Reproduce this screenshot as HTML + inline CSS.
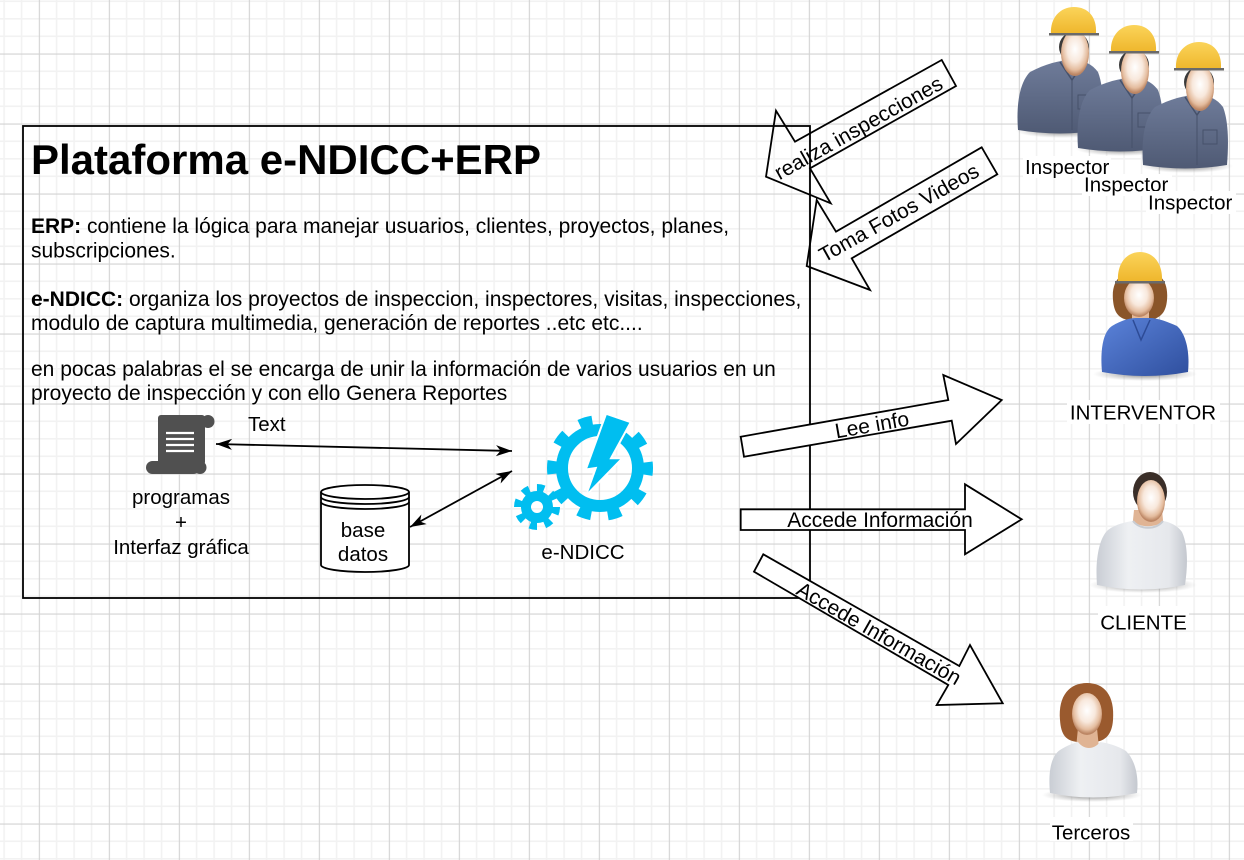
<!DOCTYPE html>
<html><head><meta charset="utf-8">
<style>
html,body{margin:0;padding:0;background:#fff;}
svg{display:block;}
text{font-family:"Liberation Sans",Arial,sans-serif;fill:#000;}
</style></head>
<body>
<svg width="1244" height="860" viewBox="0 0 1244 860" xmlns="http://www.w3.org/2000/svg">
<defs>
  <pattern id="grid" patternUnits="userSpaceOnUse" x="38.8" y="53.5" width="70" height="70">
    <rect x="0" y="0" width="70" height="70" fill="#fff"/>
    <rect x="17" y="0" width="1.6" height="70" fill="#f2f2f2"/>
    <rect x="34.5" y="0" width="1.6" height="70" fill="#f2f2f2"/>
    <rect x="52" y="0" width="1.6" height="70" fill="#f2f2f2"/>
    <rect x="0" y="17" width="70" height="1.6" fill="#f2f2f2"/>
    <rect x="0" y="34.5" width="70" height="1.6" fill="#f2f2f2"/>
    <rect x="0" y="52" width="70" height="1.6" fill="#f2f2f2"/>
    <rect x="0" y="0" width="1.1" height="70" fill="#d2d2d2"/>
    <rect x="0" y="0" width="70" height="1.1" fill="#d2d2d2"/>
  </pattern>
  <marker id="ah" markerUnits="userSpaceOnUse" markerWidth="17" markerHeight="12" refX="16" refY="6" orient="auto-start-reverse">
    <path d="M0,0.5 L16,6 L0,11.5 L4.5,6 Z" fill="#000"/>
  </marker>
  <radialGradient id="face" cx="50%" cy="42%" r="55%">
    <stop offset="0" stop-color="#ffffff"/>
    <stop offset="0.5" stop-color="#f8e8dc"/>
    <stop offset="0.82" stop-color="#e4bc9e"/>
    <stop offset="1" stop-color="#bc8664"/>
  </radialGradient>
  <radialGradient id="shadow" cx="50%" cy="50%" r="50%">
    <stop offset="0" stop-color="#555" stop-opacity="0.8"/>
    <stop offset="1" stop-color="#888" stop-opacity="0"/>
  </radialGradient>
  <linearGradient id="insp" x1="0" y1="0" x2="0" y2="1">
    <stop offset="0" stop-color="#6f7c9a"/>
    <stop offset="1" stop-color="#4f5a74"/>
  </linearGradient>
  <linearGradient id="blue" x1="0" y1="0" x2="1" y2="1">
    <stop offset="0" stop-color="#5b83da"/>
    <stop offset="1" stop-color="#2f4f9e"/>
  </linearGradient>
  <linearGradient id="white" x1="0" y1="0" x2="1" y2="0">
    <stop offset="0" stop-color="#c9cdd4"/>
    <stop offset="0.35" stop-color="#eef0f3"/>
    <stop offset="0.8" stop-color="#e6e8ec"/>
    <stop offset="1" stop-color="#c4c8cf"/>
  </linearGradient>
  <linearGradient id="helmet" x1="0" y1="0" x2="0" y2="1">
    <stop offset="0" stop-color="#fbd45a"/>
    <stop offset="1" stop-color="#eeb52a"/>
  </linearGradient>
  <g id="inspector">
    <ellipse cx="1062" cy="131" rx="46" ry="7" fill="url(#shadow)"/>
    <ellipse cx="1074" cy="47" rx="15" ry="15" fill="#3a3a3a"/>
    <path d="M1018,130 C1016,103 1020,82 1030,72 C1045,64 1060,60 1072,60 C1084,60 1092,64 1098,72 C1103,85 1104,105 1102,130 Q1060,137 1018,130 Z" fill="url(#insp)"/>
    <path d="M1060,62 L1072,80 L1084,62" fill="none" stroke="#46516a" stroke-width="1.5"/>
    <path d="M1072,80 L1072,130" stroke="#46516a" stroke-width="1"/>
    <rect x="1078" y="95" width="14" height="14" fill="none" stroke="#46516a" stroke-width="1"/>
    <ellipse cx="1075" cy="53" rx="14" ry="23" fill="url(#face)"/>
    <path d="M1051,34 C1050,18 1060,7 1074,7 C1088,7 1097,17 1096,33 L1099,35 L1049,35 Z" fill="url(#helmet)"/>
    <rect x="1049" y="33" width="50" height="2.5" fill="#6a6a6a"/>
  </g>
</defs>

<rect x="0" y="0" width="1244" height="860" fill="url(#grid)"/>

<!-- Main platform box -->
<rect x="23" y="126" width="787" height="472" fill="none" stroke="#000" stroke-width="1.8"/>

<text x="31" y="174" font-size="42" font-weight="bold">Plataforma e-NDICC+ERP</text>
<text x="31" y="233" font-size="21"><tspan font-weight="bold">ERP:</tspan> contiene la lógica para manejar usuarios, clientes, proyectos, planes,</text>
<text x="31" y="257.5" font-size="21">subscripciones.</text>
<text x="31" y="306" font-size="21"><tspan font-weight="bold">e-NDICC:</tspan> organiza los proyectos de inspeccion, inspectores, visitas, inspecciones,</text>
<text x="31" y="330" font-size="21">modulo de captura multimedia, generación de reportes ..etc etc....</text>
<text x="31" y="376" font-size="21">en pocas palabras el se encarga de unir la información de varios usuarios en un</text>
<text x="31" y="400" font-size="21">proyecto de inspección y con ello Genera Reportes</text>

<!-- scroll icon -->
<g fill="#505050">
  <rect x="158" y="415" width="47" height="50" rx="3"/>
  <circle cx="208" cy="421.5" r="6.5"/>
  <rect x="146" y="461" width="54" height="13" rx="6.5"/>
  <circle cx="200" cy="467.5" r="6.5"/>
</g>
<g stroke="#fff" stroke-width="2.3">
  <line x1="166" y1="433" x2="194" y2="433"/>
  <line x1="166" y1="439" x2="194" y2="439"/>
  <line x1="166" y1="445" x2="194" y2="445"/>
  <line x1="166" y1="451" x2="194" y2="451"/>
</g>
<text x="181" y="504" font-size="20.5" text-anchor="middle">programas</text>
<text x="181" y="529" font-size="20.5" text-anchor="middle">+</text>
<text x="181" y="554" font-size="20.5" text-anchor="middle">Interfaz gráfica</text>

<!-- connectors -->
<line x1="216" y1="444" x2="512" y2="451" stroke="#000" stroke-width="1.8" marker-start="url(#ah)" marker-end="url(#ah)"/>
<line x1="410" y1="527" x2="512" y2="471" stroke="#000" stroke-width="1.8" marker-start="url(#ah)" marker-end="url(#ah)"/>
<text x="248" y="431" font-size="20.5">Text</text>

<!-- database -->
<path d="M321,492 L321,565 A44,7 0 0 0 409,565 L409,492 A44,7 0 0 0 321,492 Z" fill="#fff" stroke="#000" stroke-width="1.8"/>
<path d="M321,492 A44,7 0 0 0 409,492" fill="none" stroke="#000" stroke-width="1.8"/>
<path d="M321,497 A44,7 0 0 0 409,497" fill="none" stroke="#000" stroke-width="1.8"/>
<path d="M321,502 A44,7 0 0 0 409,502" fill="none" stroke="#000" stroke-width="1.8"/>
<text x="363" y="537" font-size="20.5" text-anchor="middle">base</text>
<text x="363" y="561" font-size="20.5" text-anchor="middle">datos</text>

<!-- gear icon -->
<g fill="none" stroke="#00BEF0">
  <circle cx="600" cy="468" r="38" stroke-width="12"/>
  <circle cx="600" cy="468" r="47" stroke-width="12" stroke-dasharray="13 16.5" stroke-dashoffset="6"/>
  <circle cx="537" cy="507" r="11" stroke-width="10"/>
  <circle cx="537" cy="507" r="18.5" stroke-width="9" stroke-dasharray="7 7.5"/>
</g>
<polygon points="606.7,415 629.3,422.7 609.3,459.3 620,459.3 588.3,491.7 597.3,466.7 587.3,468.3" fill="#00BEF0" stroke="#fff" stroke-width="4" paint-order="stroke"/>
<text x="583" y="559" font-size="20.5" text-anchor="middle">e-NDICC</text>

<!-- left pointing arrows (unfilled) -->
<polygon points="941.7,60 795,141.7 776,110.7 766,176.7 830.7,203.3 810,168.3 956,86" fill="none" stroke="#000" stroke-width="1.8" stroke-linejoin="miter"/>
<text transform="translate(858.5,128) rotate(-29.3)" font-size="21" text-anchor="middle" dy="7">realiza inspecciones</text>
<polygon points="981.7,147.3 836,231.7 816.7,200 806.7,266 870,290 851.7,258.3 997.3,174.3" fill="none" stroke="#000" stroke-width="1.8"/>
<text transform="translate(899,213) rotate(-29.2)" font-size="21" text-anchor="middle" dy="7">Toma Fotos Videos</text>

<!-- right pointing arrows (filled white) -->
<polygon points="740.7,436.7 948.3,400 943.3,375 1001.7,400 956,444 951.7,420.7 744,456.7" fill="#fff" stroke="#000" stroke-width="1.8"/>
<text transform="translate(872,425) rotate(-10)" font-size="21" text-anchor="middle" dy="7">Lee info</text>
<polygon points="740.7,509.3 965,509.3 965,484.3 1021.7,519.3 965,554.3 965,530 740.7,530" fill="#fff" stroke="#000" stroke-width="1.8"/>
<text x="880" y="527" font-size="21" text-anchor="middle">Accede Información</text>
<polygon points="763.3,554.3 959.3,666 970,645 1002.7,703.3 936.7,705 948.3,685 754,571.7" fill="#fff" stroke="#000" stroke-width="1.8"/>
<text transform="translate(879,633.5) rotate(29.8)" font-size="21" text-anchor="middle" dy="7">Accede Información</text>

<!-- inspectors -->
<use href="#inspector"/>
<rect x="1023" y="156" width="88" height="22" fill="#fff"/>
<text x="1025" y="174" font-size="20.5">Inspector</text>
<use href="#inspector" transform="translate(60,18)"/>
<rect x="1082" y="174" width="90" height="22" fill="#fff"/>
<text x="1084" y="191.5" font-size="20.5">Inspector</text>
<use href="#inspector" transform="translate(125,35)"/>
<rect x="1146" y="191" width="90" height="23" fill="#fff"/>
<text x="1148" y="209.5" font-size="20.5">Inspector</text>

<!-- interventor -->
<ellipse cx="1145" cy="374" rx="52" ry="7" fill="url(#shadow)"/>
<path d="M1113,300 C1111,278 1124,270 1140,270 C1157,270 1169,278 1167,300 C1166,312 1161,318 1150,320 L1128,320 C1118,318 1114,312 1113,300 Z" fill="#8a5529"/>
<rect x="1132" y="305" width="17" height="22" fill="#e4b898"/>
<path d="M1102,372 C1100,350 1103,332 1112,326 C1122,320 1130,318 1136,318 L1150,318 C1158,318 1168,322 1177,326 C1186,334 1190,352 1188,372 Q1145,380 1102,372 Z" fill="url(#blue)"/>
<path d="M1133,320 L1141,340 L1150,320" fill="none" stroke="#2d4b96" stroke-width="1.5"/>
<ellipse cx="1139" cy="298" rx="15" ry="19" fill="url(#face)"/>
<path d="M1118,281 C1117,263 1127,252 1140,252 C1153,252 1163,263 1162,281 L1165,283 L1115,283 Z" fill="url(#helmet)"/>
<rect x="1115" y="281" width="50" height="2.5" fill="#6a6a6a"/>
<rect x="1067" y="400" width="153" height="24" fill="#fff"/>
<text x="1143" y="419.5" font-size="20.5" text-anchor="middle">INTERVENTOR</text>

<!-- cliente -->
<ellipse cx="1143" cy="585" rx="54" ry="8" fill="url(#shadow)"/>
<ellipse cx="1150" cy="492" rx="17" ry="20" fill="#3a2e28"/>
<path d="M1134,510 L1162,510 L1164,530 L1132,530 Z" fill="#e0b494"/>
<path d="M1097,585 C1095,560 1099,538 1108,530 C1116,524 1126,522 1133,521 C1140,528 1156,528 1163,521 C1170,522 1178,526 1182,532 C1188,545 1188,565 1185,585 Q1141,594 1097,585 Z" fill="url(#white)"/>
<path d="M1133,521 C1140,530 1156,530 1163,521" fill="none" stroke="#c8ccd2" stroke-width="2"/>
<ellipse cx="1151" cy="501" rx="14" ry="21" fill="url(#face)"/>
<rect x="1098" y="606" width="91" height="24" fill="#fff"/>
<text x="1143.5" y="629.5" font-size="20.5" text-anchor="middle">CLIENTE</text>

<!-- terceros -->
<ellipse cx="1092" cy="795" rx="50" ry="7" fill="url(#shadow)"/>
<path d="M1060,720 C1058,695 1070,683 1087,683 C1104,683 1115,695 1113,720 C1112,735 1105,741 1095,742 L1078,742 C1066,741 1061,735 1060,720 Z" fill="#9a5a2e"/>
<path d="M1078,728 L1097,728 L1099,748 L1076,748 Z" fill="#e0b494"/>
<path d="M1050,793 C1048,772 1051,756 1060,750 C1068,745 1074,743 1078,742 C1084,750 1094,750 1100,742 C1108,743 1118,746 1126,751 C1135,760 1139,776 1137,793 Q1093,802 1050,793 Z" fill="url(#white)"/>
<ellipse cx="1087" cy="714" rx="15" ry="21" fill="url(#face)"/>
<rect x="1050" y="817" width="83" height="24" fill="#fff"/>
<text x="1091" y="839.5" font-size="20.5" text-anchor="middle">Terceros</text>
</svg>
</body></html>
